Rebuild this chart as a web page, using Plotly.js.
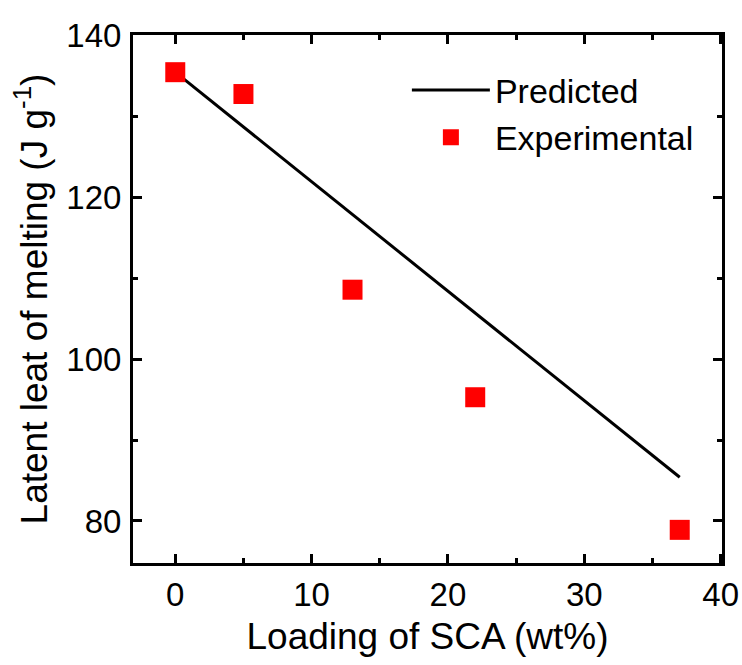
<!DOCTYPE html>
<html>
<head>
<meta charset="utf-8">
<script src="https://cdn.plot.ly/plotly-3.0.1.min.js"></script>
<style>html,body{margin:0;padding:0;background:#fff;}</style>
</head>
<body>
<div id="chart" style="width:742px;height:665px;"></div>
<script>
const loading = [0, 5, 13, 22, 37];
const experimental = [135.5, 132.8, 108.6, 95.3, 78.9];
const predictedX = [0, 37];
const predicted = [135.5, 85.4];
const xTicks = [0, 10, 20, 30, 40];
const yTicks = [80, 100, 120, 140];

const font = "Liberation Sans, Arial, sans-serif";

const traces = [
  {x: predictedX, y: predicted, mode: 'lines', name: 'Predicted',
   line: {color: '#000000', width: 3}},
  {x: loading, y: experimental, mode: 'markers', name: 'Experimental',
   marker: {symbol: 'square', size: 20, color: '#ff0000'}}
];

const axisCommon = {
  showline: true, linecolor: '#000', linewidth: 3, mirror: 'allticks',
  ticks: 'inside', ticklen: 9, tickwidth: 3, tickcolor: '#000',
  showgrid: false, zeroline: false,
  tickfont: {family: font, size: 33, color: '#000'}
};

const layout = {
  width: 742, height: 665, autosize: false,
  margin: {l: 133, r: 20, t: 35, b: 102},
  paper_bgcolor: '#fff', plot_bgcolor: '#fff',
  showlegend: true,
  legend: {x: 0.465, y: 0.95, xanchor: 'left', yanchor: 'top',
           font: {family: font, size: 34, color: '#000'},
           bgcolor: 'rgba(0,0,0,0)', itemwidth: 78, tracegroupgap: 0},
  xaxis: Object.assign({}, axisCommon, {
    range: [-3.1, 40.1], tickvals: xTicks, ticktext: xTicks.map(String),
    minor: {dtick: 5, tick0: 0, ticks: 'inside', ticklen: 5, tickwidth: 3, tickcolor: '#000'},
    title: {text: 'Loading of SCA (wt%)', font: {family: font, size: 37, color: '#000'}, standoff: 12}
  }),
  yaxis: Object.assign({}, axisCommon, {
    range: [74.8, 140.1], tickvals: yTicks, ticktext: yTicks.map(String),
    minor: {dtick: 10, tick0: 0, ticks: 'inside', ticklen: 5, tickwidth: 3, tickcolor: '#000'},
    ticklabelstandoff: 2,
    title: {text: 'Latent leat of melting (J g<sup>-1</sup>)', font: {family: font, size: 37, color: '#000'}, standoff: 8}
  })
};

Plotly.newPlot('chart', traces, layout, {displayModeBar: false, staticPlot: true});
</script>
</body>
</html>
